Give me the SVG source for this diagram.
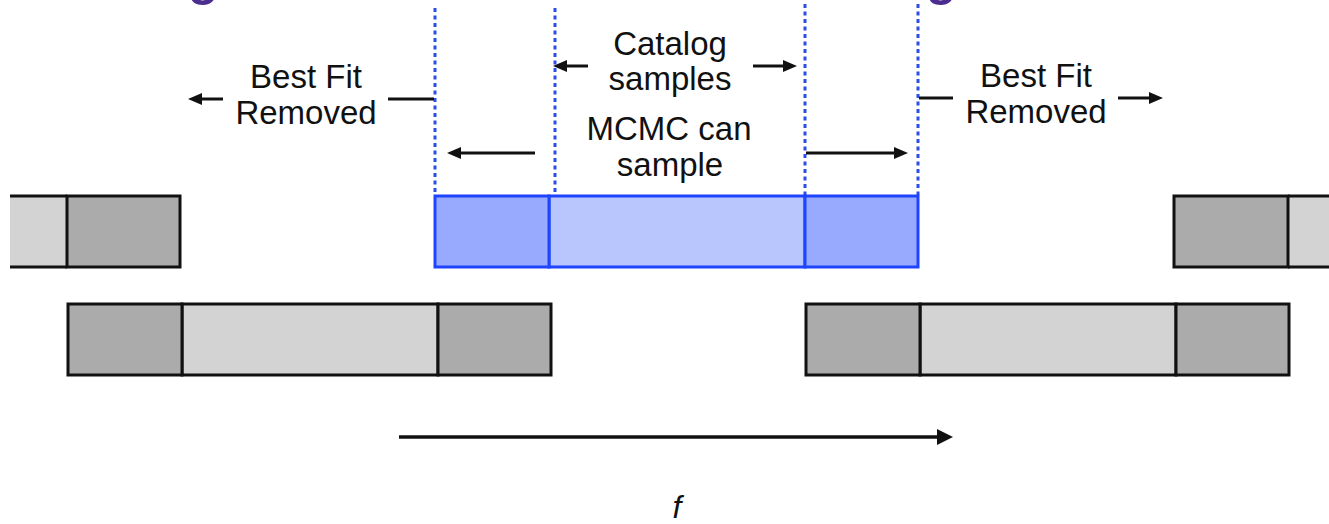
<svg xmlns="http://www.w3.org/2000/svg" width="1329" height="524" viewBox="0 0 1329 524">
<style>
.t{font-family:"Liberation Sans",Arial,sans-serif;font-size:33px;fill:#111;text-anchor:middle}
.dk{fill:#ABABAB;stroke:#111;stroke-width:3}
.lt{fill:#D3D3D3;stroke:#111;stroke-width:3}
.bd{fill:#98AAFD;stroke:#1E44FF;stroke-width:3}
.bl{fill:#B9C6FE;stroke:#1E44FF;stroke-width:3}
.dash{stroke:#2A4FE8;stroke-width:3;stroke-dasharray:4 3.5;fill:none}
.ar{stroke:#111;stroke-width:3;fill:none}
.ti{font-family:"Liberation Sans",Arial,sans-serif;font-size:50px;font-weight:bold;fill:#4A2D8F}
</style>
<defs>
<marker id="ah" markerUnits="userSpaceOnUse" markerWidth="14" markerHeight="12" refX="4" refY="6" orient="auto">
<path d="M0,0 L14,6 L0,12 z" fill="#111"/>
</marker>
<marker id="ahb" markerUnits="userSpaceOnUse" markerWidth="16" markerHeight="16" refX="4" refY="8" orient="auto">
<path d="M0,0 L16,8 L0,16 z" fill="#111"/>
</marker>
</defs>
<rect width="1329" height="524" fill="#fff"/>
<g id="title-fragments">
<text class="ti" x="188" y="-5">g</text>
<text class="ti" x="926" y="-5">g</text>
</g>
<g id="guides">
<line class="dash" x1="435" y1="8" x2="435" y2="195"/>
<line class="dash" x1="555" y1="8" x2="555" y2="195"/>
<line class="dash" x1="805" y1="4" x2="805" y2="195"/>
<line class="dash" x1="918" y1="4" x2="918" y2="195"/>
</g>
<g id="top-left-bar">
<rect x="10" y="196" width="57" height="71" fill="#D3D3D3"/>
<line x1="10" y1="196" x2="67" y2="196" stroke="#111" stroke-width="3"/>
<line x1="10" y1="267" x2="67" y2="267" stroke="#111" stroke-width="3"/>
<rect class="dk" x="67" y="196" width="113" height="71"/>
</g>
<g id="top-center-bar">
<rect class="bl" x="549" y="196" width="256" height="71"/>
<rect class="bd" x="435" y="196" width="114" height="71"/>
<rect class="bd" x="805" y="196" width="113" height="71"/>
</g>
<g id="top-right-bar">
<rect x="1288" y="196" width="45" height="71" fill="#D3D3D3"/>
<line x1="1288" y1="196" x2="1329" y2="196" stroke="#111" stroke-width="3"/>
<line x1="1288" y1="267" x2="1329" y2="267" stroke="#111" stroke-width="3"/>
<rect class="dk" x="1174" y="196" width="114" height="71"/>
</g>
<g id="bottom-left-bar">
<rect class="lt" x="182" y="304" width="256" height="71"/>
<rect class="dk" x="68" y="304" width="114" height="71"/>
<rect class="dk" x="438" y="304" width="113" height="71"/>
</g>
<g id="bottom-right-bar">
<rect class="lt" x="920" y="304" width="256" height="71"/>
<rect class="dk" x="806" y="304" width="114" height="71"/>
<rect class="dk" x="1176" y="304" width="113" height="71"/>
</g>
<g id="labels">
<text class="t" x="306" y="88">Best Fit</text>
<text class="t" x="306" y="124">Removed</text>
<text class="t" x="1036" y="87">Best Fit</text>
<text class="t" x="1036" y="123">Removed</text>
<text class="t" x="670" y="55">Catalog</text>
<text class="t" x="670" y="90">samples</text>
<text class="t" x="669" y="140">MCMC can</text>
<text class="t" x="670" y="176">sample</text>
<text x="677" y="518" style="font-family:'Liberation Sans',Arial,sans-serif;font-size:32px;font-style:italic;fill:#111;text-anchor:middle">f</text>
</g>
<g id="connectors">
<line class="ar" x1="223" y1="99" x2="198" y2="99" marker-end="url(#ah)"/>
<line class="ar" x1="388" y1="99" x2="434" y2="99"/>
<line class="ar" x1="919" y1="98" x2="953" y2="98"/>
<line class="ar" x1="1118" y1="98" x2="1153" y2="98" marker-end="url(#ah)"/>
<line class="ar" x1="588" y1="66" x2="563" y2="66" marker-end="url(#ah)"/>
<line class="ar" x1="753" y1="66" x2="787" y2="66" marker-end="url(#ah)"/>
<line class="ar" x1="535" y1="153" x2="457" y2="153" marker-end="url(#ah)"/>
<line class="ar" x1="806" y1="153" x2="898" y2="153" marker-end="url(#ah)"/>
<line stroke="#111" stroke-width="3.5" x1="399" y1="437" x2="941" y2="437" marker-end="url(#ahb)"/>
</g>
</svg>
